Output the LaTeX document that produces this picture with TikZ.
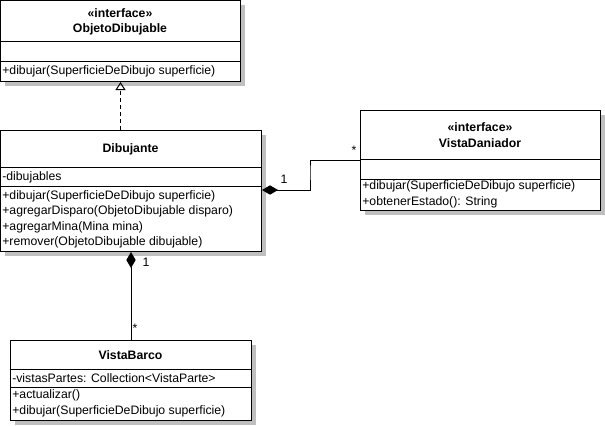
\documentclass[tikz,border=0pt]{standalone}
\usepackage{fontspec}
\setmainfont{Liberation Sans}
\usetikzlibrary{arrows.meta,calc,shadows}
\tikzset{
  classbox/.style={draw=black, fill=white, line width=0.75pt, inner sep=0pt, anchor=north west,
    drop shadow={shadow xshift=3pt, shadow yshift=-3pt, fill=black!25, opacity=1}},
  sep/.style={draw=black, line width=0.75pt},
  title/.style={inner sep=0pt, font=\bfseries\fontsize{9.2}{11}\selectfont},
  member/.style={anchor=west, inner sep=1.5pt, font=\fontsize{9.2}{11}\selectfont},
  mult/.style={inner sep=0pt, font=\fontsize{9.2}{11}\selectfont},
  realize/.style={-{Triangle[open,length=6pt,width=7.5pt]}, dash pattern=on 3pt off 2.25pt, line width=0.75pt},
  compose/.style={{Diamond[length=12pt,width=7pt]}-, line width=0.75pt}
}

\begin{document}
\begin{tikzpicture}[x=0.75pt,y=-0.75pt]
  \useasboundingbox (0,0) rectangle (605,425);
  % ObjetoDibujable
  \node[classbox, minimum width=180pt, minimum height=60.75pt] (od) at (0,0) {};
  \draw[sep] (0,41) -- (240,41);
  \draw[sep] (0,61) -- (240,61);
  \node[title] (odst) at (120,13.5) {«interface»};
  \node[title] (odn) at (120,29.5) {ObjetoDibujable};
  \node[member] (odm1) at (0,71.5) {+dibujar(SuperficieDeDibujo superficie)};
  % Dibujante
  \node[classbox, minimum width=195.75pt, minimum height=90.75pt] (dib) at (0,130) {};
  \draw[sep] (0,167) -- (261,167);
  \draw[sep] (0,186) -- (261,186);
  \node[title] (dibn) at (130.5,149) {Dibujante};
  \node[member] (diba1) at (0,177) {-dibujables};
  \node[member] (dibm1) at (0,196) {+dibujar(SuperficieDeDibujo superficie)};
  \node[member] (dibm2) at (0,211.5) {+agregarDisparo(ObjetoDibujable disparo)};
  \node[member] (dibm3) at (0,227) {+agregarMina(Mina mina)};
  \node[member] (dibm4) at (0,242.5) {+remover(ObjetoDibujable dibujable)};
  % VistaDaniador
  \node[classbox, minimum width=180pt, minimum height=75pt] (vd) at (360,110) {};
  \draw[sep] (360,159) -- (600,159);
  \draw[sep] (360,179) -- (600,179);
  \node[title] (vdst) at (480,127) {«interface»};
  \node[title] (vdn) at (480,143) {VistaDaniador};
  \node[member] (vdm1) at (360,186.5) {+dibujar(SuperficieDeDibujo superficie)};
  \node[member] (vdm2) at (360,202) {+obtenerEstado(): String};
  % VistaBarco
  \node[classbox, minimum width=180.75pt, minimum height=60pt] (vb) at (10,340) {};
  \draw[sep] (10,369) -- (251,369);
  \draw[sep] (10,387) -- (251,387);
  \node[title] (vbn) at (130.5,355) {VistaBarco};
  \node[member] (vba1) at (10,378.5) {-vistasPartes: Collection<VistaParte>};
  \node[member] (vbm1) at (10,395.5) {+actualizar()};
  \node[member] (vbm2) at (10,411.5) {+dibujar(SuperficieDeDibujo superficie)};
  % relaciones
  \draw[realize] (dib.north -| od.south) -- (od.south);
  \draw[compose] ($(dib.north east)+(0,60)$) -| (310,170) |- ($(vd.north west)+(0,50)$);
  \node[mult] (m1) at (284,179) {1};
  \node[mult] (m2) at (354,150) {*};
  \draw[compose] (dib.south -| vb.north) -- (vb.north);
  \node[mult] (m3) at (146,262) {1};
  \node[mult] (m4) at (135,328) {*};
\end{tikzpicture}
\end{document}
